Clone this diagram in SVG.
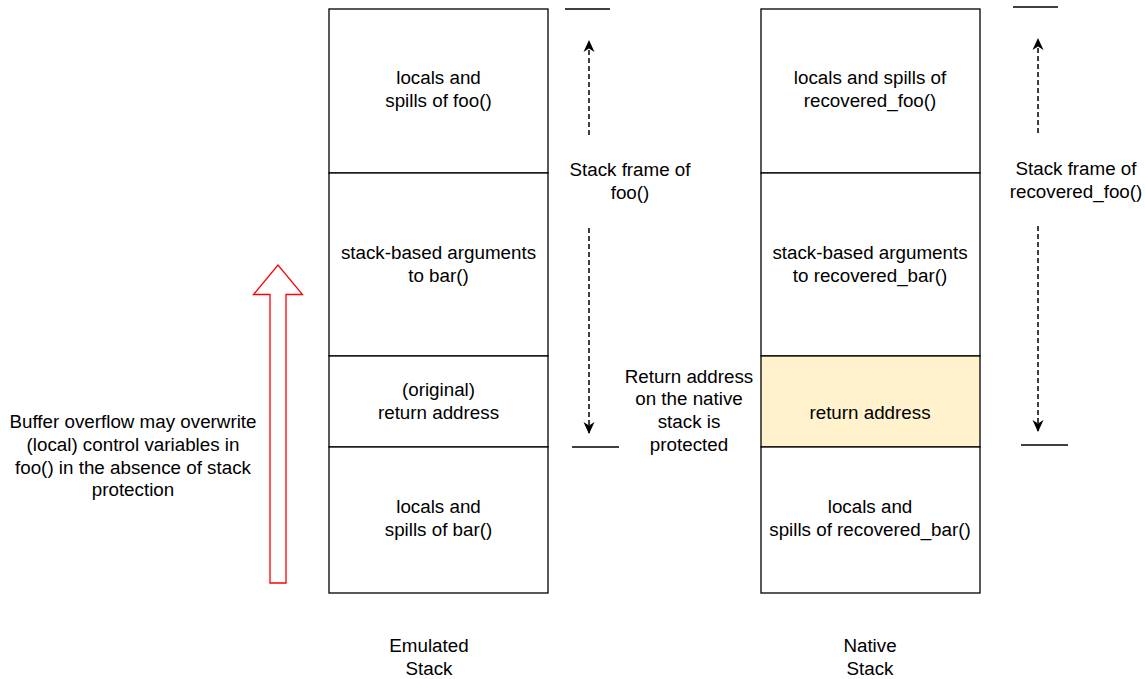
<svg xmlns="http://www.w3.org/2000/svg" width="1145" height="679" viewBox="0 0 1145 679">
  <defs>
    <style>
      .box { fill: #ffffff; stroke: #000000; stroke-width: 1.3; }
      .ret { fill: #fff2cc; }
      .t { font-family: "Liberation Sans", Arial, sans-serif; font-size: 18.8px; fill: #000000; text-anchor: middle; }
      .mark { stroke: #000000; stroke-width: 1.3; fill: none; }
      .dash { stroke: #000000; stroke-width: 1.5; fill: none; stroke-dasharray: 5 3; }
    </style>
    <marker id="head" viewBox="0 0 12 12" refX="11" refY="6" markerWidth="12" markerHeight="12" orient="auto" markerUnits="userSpaceOnUse">
      <path d="M0,0.5 L12,6 L0,11.5 L3.5,6 Z" fill="#000000"/>
    </marker>
  </defs>
  <rect width="1145" height="679" fill="#ffffff"/>

  <!-- Emulated stack -->
  <g id="emu-locals-foo">
    <rect class="box" x="329" y="9" width="219" height="164"/>
    <text class="t" x="438.5" y="84">locals and</text>
    <text class="t" x="438.5" y="107">spills of foo()</text>
  </g>
  <g id="emu-args-bar">
    <rect class="box" x="329" y="173" width="219" height="183"/>
    <text class="t" x="438.5" y="259">stack-based arguments</text>
    <text class="t" x="438.5" y="282">to bar()</text>
  </g>
  <g id="emu-ret">
    <rect class="box" x="329" y="356" width="219" height="91"/>
    <text class="t" x="438.5" y="396">(original)</text>
    <text class="t" x="438.5" y="419">return address</text>
  </g>
  <g id="emu-locals-bar">
    <rect class="box" x="329" y="447" width="219" height="146"/>
    <text class="t" x="438.5" y="513">locals and</text>
    <text class="t" x="438.5" y="536">spills of bar()</text>
  </g>

  <!-- Native stack -->
  <g id="nat-locals-foo">
    <rect class="box" x="761" y="9" width="219" height="164"/>
    <text class="t" x="870" y="84">locals and spills of</text>
    <text class="t" x="870" y="107">recovered_foo()</text>
  </g>
  <g id="nat-args-bar">
    <rect class="box" x="761" y="173" width="219" height="183"/>
    <text class="t" x="870" y="259">stack-based arguments</text>
    <text class="t" x="870" y="282">to recovered_bar()</text>
  </g>
  <g id="nat-ret">
    <rect class="box ret" x="761" y="356" width="219" height="91"/>
    <text class="t" x="870" y="419">return address</text>
  </g>
  <g id="nat-locals-bar">
    <rect class="box" x="761" y="447" width="219" height="146"/>
    <text class="t" x="870" y="513">locals and</text>
    <text class="t" x="870" y="536">spills of recovered_bar()</text>
  </g>

  <!-- Frame extent markers and arrows -->
  <g id="connectors">
    <line class="mark" x1="565" y1="9" x2="610" y2="9"/>
    <line class="mark" x1="572" y1="447" x2="619" y2="447"/>
    <line class="mark" x1="1013" y1="7" x2="1058" y2="7"/>
    <line class="mark" x1="1021" y1="445" x2="1068" y2="445"/>
    <line class="dash" x1="589" y1="135" x2="589" y2="41" marker-end="url(#head)"/>
    <line class="dash" x1="589" y1="228" x2="589" y2="433" marker-end="url(#head)"/>
    <line class="dash" x1="1038" y1="133" x2="1038" y2="39" marker-end="url(#head)"/>
    <line class="dash" x1="1038" y1="226" x2="1038" y2="431" marker-end="url(#head)"/>
  </g>

  <!-- Overflow direction -->
  <g id="overflow-arrow">
    <path d="M270,583 L286,583 L286,294.5 L302.5,294.5 L278,265 L253.5,294.5 L270,294.5 Z" fill="#ffffff" stroke="#ff0000" stroke-width="1.3"/>
  </g>

  <!-- Labels -->
  <g id="label-frame-foo">
    <text class="t" x="630" y="176">Stack frame of</text>
    <text class="t" x="630" y="199">foo()</text>
  </g>
  <g id="label-frame-recovered">
    <text class="t" x="1076" y="175">Stack frame of</text>
    <text class="t" x="1076" y="198">recovered_foo()</text>
  </g>
  <g id="label-protected">
    <text class="t" x="689" y="383">Return address</text>
    <text class="t" x="689" y="405">on the native</text>
    <text class="t" x="689" y="428">stack is</text>
    <text class="t" x="689" y="451">protected</text>
  </g>
  <g id="label-overflow">
    <text class="t" x="133" y="428">Buffer overflow may overwrite</text>
    <text class="t" x="133" y="451">(local) control variables in</text>
    <text class="t" x="133" y="474">foo() in the absence of stack</text>
    <text class="t" x="133" y="496">protection</text>
  </g>
  <g id="label-emulated">
    <text class="t" x="429" y="652">Emulated</text>
    <text class="t" x="429" y="675">Stack</text>
  </g>
  <g id="label-native">
    <text class="t" x="870" y="652">Native</text>
    <text class="t" x="870" y="675">Stack</text>
  </g>
</svg>
